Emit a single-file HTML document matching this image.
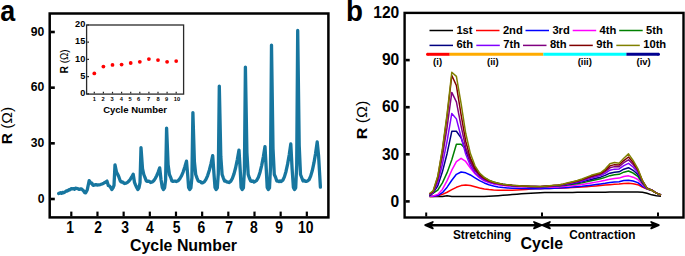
<!DOCTYPE html>
<html><head><meta charset="utf-8"><style>
html,body{margin:0;padding:0;background:#fff;width:685px;height:256px;overflow:hidden}
svg{display:block}
text{font-family:"Liberation Sans", sans-serif;fill:#000}
</style></head><body>
<svg width="685" height="256" viewBox="0 0 685 256">
<text transform="translate(0.20,21.00) scale(0.89,1)" font-size="30.2" text-anchor="start" font-weight="bold" >a</text>
<rect x="49.7" y="13.5" width="278.7" height="203.9" fill="none" stroke="#000" stroke-width="2.5"/>
<line x1="51.00" y1="199.00" x2="54.80" y2="199.00" stroke="#000" stroke-width="2.6" />
<text transform="translate(44.40,202.60) scale(0.975,1)" font-size="12.5" text-anchor="end" font-weight="bold" >0</text>
<line x1="51.00" y1="143.33" x2="54.80" y2="143.33" stroke="#000" stroke-width="2.6" />
<text transform="translate(44.40,146.93) scale(0.975,1)" font-size="12.5" text-anchor="end" font-weight="bold" >30</text>
<line x1="51.00" y1="87.66" x2="54.80" y2="87.66" stroke="#000" stroke-width="2.6" />
<text transform="translate(44.40,91.26) scale(0.975,1)" font-size="12.5" text-anchor="end" font-weight="bold" >60</text>
<line x1="51.00" y1="32.00" x2="54.80" y2="32.00" stroke="#000" stroke-width="2.6" />
<text transform="translate(44.40,35.60) scale(0.975,1)" font-size="12.5" text-anchor="end" font-weight="bold" >90</text>
<line x1="71.30" y1="216.30" x2="71.30" y2="211.60" stroke="#000" stroke-width="2.2" />
<text transform="translate(70.20,232.80) scale(0.86,1)" font-size="16.2" text-anchor="middle" font-weight="bold" >1</text>
<line x1="97.47" y1="216.30" x2="97.47" y2="211.60" stroke="#000" stroke-width="2.2" />
<text transform="translate(98.07,232.80) scale(0.86,1)" font-size="16.2" text-anchor="middle" font-weight="bold" >2</text>
<line x1="123.64" y1="216.30" x2="123.64" y2="211.60" stroke="#000" stroke-width="2.2" />
<text transform="translate(125.04,232.80) scale(0.86,1)" font-size="16.2" text-anchor="middle" font-weight="bold" >3</text>
<line x1="149.81" y1="216.30" x2="149.81" y2="211.60" stroke="#000" stroke-width="2.2" />
<text transform="translate(149.91,232.80) scale(0.86,1)" font-size="16.2" text-anchor="middle" font-weight="bold" >4</text>
<line x1="175.98" y1="216.30" x2="175.98" y2="211.60" stroke="#000" stroke-width="2.2" />
<text transform="translate(176.58,232.80) scale(0.86,1)" font-size="16.2" text-anchor="middle" font-weight="bold" >5</text>
<line x1="202.15" y1="216.30" x2="202.15" y2="211.60" stroke="#000" stroke-width="2.2" />
<text transform="translate(201.45,232.80) scale(0.86,1)" font-size="16.2" text-anchor="middle" font-weight="bold" >6</text>
<line x1="228.32" y1="216.30" x2="228.32" y2="211.60" stroke="#000" stroke-width="2.2" />
<text transform="translate(229.02,232.80) scale(0.86,1)" font-size="16.2" text-anchor="middle" font-weight="bold" >7</text>
<line x1="254.49" y1="216.30" x2="254.49" y2="211.60" stroke="#000" stroke-width="2.2" />
<text transform="translate(253.79,232.80) scale(0.86,1)" font-size="16.2" text-anchor="middle" font-weight="bold" >8</text>
<line x1="280.66" y1="216.30" x2="280.66" y2="211.60" stroke="#000" stroke-width="2.2" />
<text transform="translate(279.06,232.80) scale(0.86,1)" font-size="16.2" text-anchor="middle" font-weight="bold" >9</text>
<line x1="306.83" y1="216.30" x2="306.83" y2="211.60" stroke="#000" stroke-width="2.2" />
<text transform="translate(305.63,232.80) scale(0.86,1)" font-size="16.2" text-anchor="middle" font-weight="bold" >10</text>
<text transform="translate(183.50,251.20) scale(0.965,1)" font-size="16.5" text-anchor="middle" font-weight="bold" >Cycle Number</text>
<text transform="translate(11.6,125.6) rotate(-90) scale(1.05,1)" font-size="14.8" text-anchor="middle" font-weight="bold">R <tspan font-weight="normal">(Ω)</tspan></text>
<path d="M58.70,193.50 L59.64,193.11 L60.58,192.73 L61.52,193.29 L62.46,192.34 L63.40,192.80 L64.34,192.41 L65.28,191.73 L66.22,190.86 L67.16,191.05 L68.10,190.60 L69.03,189.59 L69.96,189.79 L70.89,188.92 L71.82,188.59 L72.75,188.80 L73.68,188.67 L74.61,189.22 L75.54,188.21 L76.47,188.33 L77.40,188.70 L78.38,188.93 L79.35,189.43 L80.33,188.96 L81.30,188.90 L82.50,189.81 L83.70,191.00 L84.70,192.57 L85.70,192.80 L87.20,190.00 L89.20,180.60 L90.80,183.00 L91.80,183.13 L92.80,185.04 L93.80,185.30 L94.87,184.91 L95.93,184.60 L97.00,185.00 L98.67,184.87 L100.33,184.52 L102.00,183.96 L103.67,183.19 L105.33,182.24 L107.00,181.10 L108.30,185.45 L109.50,185.94 L110.70,187.50 L111.80,189.60 L113.00,187.80 L114.00,185.38 L115.00,164.90 L116.50,172.18 L117.80,174.50 L119.05,177.48 L120.30,181.00 L121.40,182.07 L122.50,181.80 L123.60,182.99 L124.70,183.50 L126.12,183.19 L127.53,182.36 L128.95,181.03 L130.37,179.24 L131.78,176.99 L133.20,174.30 L134.50,182.38 L135.60,185.14 L136.70,187.50 L137.80,189.60 L139.00,187.80 L140.00,182.79 L141.00,147.60 L142.50,168.72 L143.80,174.50 L145.05,177.57 L146.30,181.00 L147.40,181.44 L148.50,181.14 L149.60,181.51 L150.70,182.50 L152.20,182.01 L153.70,180.69 L155.20,178.59 L156.70,175.74 L158.20,172.17 L159.70,167.90 L161.00,179.50 L162.30,187.50 L163.40,189.60 L164.60,187.80 L165.60,179.87 L166.60,128.10 L168.10,164.82 L169.40,174.50 L170.65,177.34 L171.90,181.00 L173.00,181.38 L174.10,181.15 L175.20,181.11 L176.30,181.50 L178.00,180.82 L179.70,178.97 L181.40,176.03 L183.10,172.06 L184.80,167.07 L186.50,161.10 L187.80,176.45 L188.60,187.50 L189.70,189.60 L190.90,187.80 L191.90,177.54 L192.90,112.60 L194.40,161.72 L195.70,174.50 L196.95,177.87 L198.20,181.00 L199.30,181.38 L200.40,181.62 L201.50,182.76 L202.60,182.80 L204.28,181.90 L205.97,179.44 L207.65,175.54 L209.33,170.26 L211.02,163.63 L212.70,155.70 L214.00,174.02 L215.00,187.50 L216.10,189.60 L217.30,187.80 L218.30,173.56 L219.30,86.10 L220.80,156.42 L222.10,174.50 L223.35,178.03 L224.60,181.00 L225.70,181.02 L226.80,181.85 L227.90,182.16 L229.00,182.50 L230.67,181.42 L232.33,178.48 L234.00,173.82 L235.67,167.50 L237.33,159.59 L239.00,150.10 L240.30,171.50 L241.10,187.50 L242.20,189.60 L243.40,187.80 L244.40,170.72 L245.40,67.10 L246.90,152.62 L248.20,174.50 L249.45,178.28 L250.70,181.00 L251.80,181.45 L252.90,180.95 L254.00,182.05 L255.10,181.50 L256.75,180.34 L258.40,177.17 L260.05,172.15 L261.70,165.35 L263.35,156.82 L265.00,146.60 L266.30,169.92 L267.20,187.50 L268.30,189.60 L269.50,187.80 L270.50,167.41 L271.50,45.10 L273.00,148.22 L274.30,174.50 L275.55,177.22 L276.80,181.00 L277.90,181.01 L279.00,181.61 L280.10,180.89 L281.20,181.50 L282.80,180.25 L284.40,176.85 L286.00,171.45 L287.60,164.14 L289.20,154.98 L290.80,144.00 L292.10,168.75 L293.40,187.50 L294.50,189.60 L295.70,187.80 L296.70,165.21 L297.70,30.40 L299.20,145.28 L300.50,174.50 L301.75,177.73 L303.00,181.00 L304.10,180.35 L305.20,181.24 L306.30,181.37 L307.40,181.00 L309.03,179.70 L310.67,176.16 L312.30,170.55 L313.93,162.95 L315.57,153.42 L317.20,142.00 L318.60,156.00 L320.40,187.20" fill="none" stroke="#17769f" stroke-width="3.3" stroke-linejoin="round" stroke-linecap="round"/>
<rect x="86.6" y="25" width="97.0" height="69.1" fill="#fff" stroke="#2a2a2a" stroke-width="1.3"/>
<line x1="87.20" y1="93.80" x2="89.00" y2="93.80" stroke="#222" stroke-width="1.2" />
<text transform="translate(85.30,96.00) scale(0.97,1)" font-size="9.5" text-anchor="end" font-weight="bold" >0</text>
<line x1="87.20" y1="76.60" x2="89.00" y2="76.60" stroke="#222" stroke-width="1.2" />
<text transform="translate(85.30,78.80) scale(0.97,1)" font-size="9.5" text-anchor="end" font-weight="bold" >5</text>
<line x1="87.20" y1="59.40" x2="89.00" y2="59.40" stroke="#222" stroke-width="1.2" />
<text transform="translate(85.30,61.60) scale(0.97,1)" font-size="9.5" text-anchor="end" font-weight="bold" >10</text>
<line x1="87.20" y1="42.20" x2="89.00" y2="42.20" stroke="#222" stroke-width="1.2" />
<text transform="translate(85.30,44.40) scale(0.97,1)" font-size="9.5" text-anchor="end" font-weight="bold" >15</text>
<line x1="87.20" y1="25.00" x2="89.00" y2="25.00" stroke="#222" stroke-width="1.2" />
<text transform="translate(85.30,27.20) scale(0.97,1)" font-size="9.5" text-anchor="end" font-weight="bold" >20</text>
<line x1="94.30" y1="93.50" x2="94.30" y2="91.80" stroke="#222" stroke-width="1.2" />
<text x="94.40" y="101.20" font-size="5.7" text-anchor="middle" font-weight="bold" >1</text>
<line x1="103.40" y1="93.50" x2="103.40" y2="91.80" stroke="#222" stroke-width="1.2" />
<text x="103.20" y="101.20" font-size="5.7" text-anchor="middle" font-weight="bold" >2</text>
<line x1="112.50" y1="93.50" x2="112.50" y2="91.80" stroke="#222" stroke-width="1.2" />
<text x="112.10" y="101.20" font-size="5.7" text-anchor="middle" font-weight="bold" >3</text>
<line x1="121.60" y1="93.50" x2="121.60" y2="91.80" stroke="#222" stroke-width="1.2" />
<text x="121.30" y="101.20" font-size="5.7" text-anchor="middle" font-weight="bold" >4</text>
<line x1="130.70" y1="93.50" x2="130.70" y2="91.80" stroke="#222" stroke-width="1.2" />
<text x="130.00" y="101.20" font-size="5.7" text-anchor="middle" font-weight="bold" >5</text>
<line x1="139.80" y1="93.50" x2="139.80" y2="91.80" stroke="#222" stroke-width="1.2" />
<text x="138.70" y="101.20" font-size="5.7" text-anchor="middle" font-weight="bold" >6</text>
<line x1="148.90" y1="93.50" x2="148.90" y2="91.80" stroke="#222" stroke-width="1.2" />
<text x="148.60" y="101.20" font-size="5.7" text-anchor="middle" font-weight="bold" >7</text>
<line x1="158.00" y1="93.50" x2="158.00" y2="91.80" stroke="#222" stroke-width="1.2" />
<text x="158.00" y="101.20" font-size="5.7" text-anchor="middle" font-weight="bold" >8</text>
<line x1="167.10" y1="93.50" x2="167.10" y2="91.80" stroke="#222" stroke-width="1.2" />
<text x="166.60" y="101.20" font-size="5.7" text-anchor="middle" font-weight="bold" >9</text>
<line x1="176.20" y1="93.50" x2="176.20" y2="91.80" stroke="#222" stroke-width="1.2" />
<text x="176.90" y="101.20" font-size="5.7" text-anchor="middle" font-weight="bold" >10</text>
<text x="135.10" y="112.60" font-size="9.5" text-anchor="middle" font-weight="bold" >Cycle Number</text>
<text transform="translate(67.7,61.5) rotate(-90) scale(0.98,1)" font-size="10.5" text-anchor="middle" font-weight="bold">R <tspan font-weight="normal" font-size="10.0">(Ω)</tspan></text>
<circle cx="94.30" cy="73.40" r="1.9" fill="#ff0000"/>
<circle cx="103.40" cy="66.62" r="1.9" fill="#ff0000"/>
<circle cx="112.50" cy="64.90" r="1.9" fill="#ff0000"/>
<circle cx="121.60" cy="64.56" r="1.9" fill="#ff0000"/>
<circle cx="130.70" cy="63.01" r="1.9" fill="#ff0000"/>
<circle cx="139.80" cy="61.81" r="1.9" fill="#ff0000"/>
<circle cx="148.90" cy="59.06" r="1.9" fill="#ff0000"/>
<circle cx="158.00" cy="60.09" r="1.9" fill="#ff0000"/>
<circle cx="167.10" cy="61.81" r="1.9" fill="#ff0000"/>
<circle cx="176.20" cy="61.12" r="1.9" fill="#ff0000"/>
<text transform="translate(345.90,20.70) scale(0.92,1)" font-size="30.2" text-anchor="start" font-weight="bold" >b</text>
<rect x="404.6" y="12.9" width="278.9" height="204.6" fill="none" stroke="#000" stroke-width="2.4"/>
<line x1="405.60" y1="201.40" x2="409.70" y2="201.40" stroke="#000" stroke-width="2.6" />
<text transform="translate(399.30,206.60) scale(0.92,1)" font-size="17" text-anchor="end" font-weight="bold" >0</text>
<line x1="405.60" y1="154.30" x2="409.70" y2="154.30" stroke="#000" stroke-width="2.6" />
<text transform="translate(399.30,159.50) scale(0.92,1)" font-size="17" text-anchor="end" font-weight="bold" >30</text>
<line x1="405.60" y1="107.20" x2="409.70" y2="107.20" stroke="#000" stroke-width="2.6" />
<text transform="translate(399.30,112.40) scale(0.92,1)" font-size="17" text-anchor="end" font-weight="bold" >60</text>
<line x1="405.60" y1="60.10" x2="409.70" y2="60.10" stroke="#000" stroke-width="2.6" />
<text transform="translate(399.30,65.30) scale(0.92,1)" font-size="17" text-anchor="end" font-weight="bold" >90</text>
<text transform="translate(399.30,18.20) scale(0.92,1)" font-size="17" text-anchor="end" font-weight="bold" >120</text>
<line x1="426.20" y1="216.50" x2="426.20" y2="212.50" stroke="#000" stroke-width="2" />
<line x1="542.00" y1="216.50" x2="542.00" y2="212.50" stroke="#000" stroke-width="2" />
<line x1="658.00" y1="216.50" x2="658.00" y2="212.50" stroke="#000" stroke-width="2" />
<text transform="translate(366.9,120.0) rotate(-90) scale(1.08,1)" font-size="14.8" text-anchor="middle" font-weight="bold">R <tspan font-weight="normal">(Ω)</tspan></text>
<line x1="427.00" y1="225.20" x2="539.00" y2="225.20" stroke="#000" stroke-width="2.4" />
<polygon points="432.80,222.00 425.20,225.20 432.80,228.40 430.20,225.20" fill="#000" stroke="#000" stroke-width="1.8" stroke-linejoin="round"/>
<polygon points="534.00,222.00 541.60,225.20 534.00,228.40 536.60,225.20" fill="#000" stroke="#000" stroke-width="1.8" stroke-linejoin="round"/>
<line x1="545.00" y1="225.20" x2="657.00" y2="225.20" stroke="#000" stroke-width="2.4" />
<polygon points="549.90,222.00 542.30,225.20 549.90,228.40 547.30,225.20" fill="#000" stroke="#000" stroke-width="1.8" stroke-linejoin="round"/>
<polygon points="651.20,222.00 658.80,225.20 651.20,228.40 653.80,225.20" fill="#000" stroke="#000" stroke-width="1.8" stroke-linejoin="round"/>
<text transform="translate(482.10,238.60) scale(0.96,1)" font-size="12.3" text-anchor="middle" font-weight="bold" >Stretching</text>
<text transform="translate(602.40,238.90) scale(0.96,1)" font-size="12.3" text-anchor="middle" font-weight="bold" >Contraction</text>
<text transform="translate(541.80,249.40) scale(0.96,1)" font-size="16.6" text-anchor="middle" font-weight="bold" >Cycle</text>
<line x1="429.50" y1="30.50" x2="453.00" y2="30.50" stroke="#000000" stroke-width="1.5" />
<text x="456.40" y="34.10" font-size="11.2" text-anchor="start" font-weight="bold" >1st</text>
<line x1="476.00" y1="30.50" x2="499.50" y2="30.50" stroke="#ff0000" stroke-width="1.5" />
<text x="502.90" y="34.10" font-size="11.2" text-anchor="start" font-weight="bold" >2nd</text>
<line x1="525.50" y1="30.50" x2="549.00" y2="30.50" stroke="#0000ff" stroke-width="1.5" />
<text x="552.40" y="34.10" font-size="11.2" text-anchor="start" font-weight="bold" >3rd</text>
<line x1="572.70" y1="30.50" x2="596.20" y2="30.50" stroke="#ff00ff" stroke-width="1.5" />
<text x="599.60" y="34.10" font-size="11.2" text-anchor="start" font-weight="bold" >4th</text>
<line x1="619.20" y1="30.50" x2="642.70" y2="30.50" stroke="#008000" stroke-width="1.5" />
<text x="646.10" y="34.10" font-size="11.2" text-anchor="start" font-weight="bold" >5th</text>
<line x1="429.50" y1="45.40" x2="453.00" y2="45.40" stroke="#000080" stroke-width="1.5" />
<text x="456.40" y="48.30" font-size="11.2" text-anchor="start" font-weight="bold" >6th</text>
<line x1="476.30" y1="45.40" x2="499.80" y2="45.40" stroke="#8000ff" stroke-width="1.5" />
<text x="503.20" y="48.30" font-size="11.2" text-anchor="start" font-weight="bold" >7th</text>
<line x1="523.00" y1="45.40" x2="546.50" y2="45.40" stroke="#800080" stroke-width="1.5" />
<text x="549.90" y="48.30" font-size="11.2" text-anchor="start" font-weight="bold" >8th</text>
<line x1="569.30" y1="45.40" x2="592.80" y2="45.40" stroke="#800000" stroke-width="1.5" />
<text x="596.20" y="48.30" font-size="11.2" text-anchor="start" font-weight="bold" >9th</text>
<line x1="616.30" y1="45.40" x2="639.80" y2="45.40" stroke="#808000" stroke-width="1.5" />
<text x="643.20" y="48.30" font-size="11.2" text-anchor="start" font-weight="bold" >10th</text>
<line x1="427.50" y1="54.30" x2="449.70" y2="54.30" stroke="#ff0000" stroke-width="3" />
<line x1="449.70" y1="54.30" x2="543.40" y2="54.30" stroke="#ffab00" stroke-width="3" />
<line x1="543.40" y1="54.30" x2="626.40" y2="54.30" stroke="#00ffff" stroke-width="3" />
<line x1="626.40" y1="54.30" x2="658.50" y2="54.30" stroke="#000090" stroke-width="3" />
<circle cx="427.5" cy="54.3" r="1.5" fill="#ff0000"/>
<circle cx="658.5" cy="54.3" r="1.5" fill="#000090"/>
<text transform="translate(437.60,64.70) scale(0.98,1)" font-size="9.7" text-anchor="middle" font-weight="bold" >(i)</text>
<text transform="translate(492.80,64.70) scale(0.98,1)" font-size="9.7" text-anchor="middle" font-weight="bold" >(ii)</text>
<text transform="translate(584.80,64.70) scale(0.98,1)" font-size="9.7" text-anchor="middle" font-weight="bold" >(iii)</text>
<text transform="translate(643.60,64.70) scale(0.98,1)" font-size="9.7" text-anchor="middle" font-weight="bold" >(iv)</text>
<path d="M429.5,196.60 L433.1,196.60 L437.8,196.60 L442.4,196.45 L447.1,195.80 L451.8,196.47 L456.4,196.60 L461.1,196.60 L465.7,196.60 L470.4,196.60 L475.0,196.60 L479.6,196.55 L484.3,196.43 L488.9,196.23 L493.6,195.97 L498.2,195.66 L502.9,195.32 L507.6,194.95 L512.2,194.57 L516.9,194.19 L521.5,193.83 L526.1,193.48 L530.8,193.17 L535.5,192.90 L540.1,192.70 L544.8,192.55 L549.4,192.48 L554.0,192.47 L558.7,192.46 L563.4,192.43 L568.0,192.41 L572.6,192.39 L577.3,192.36 L582.0,192.33 L586.6,192.30 L591.2,192.26 L595.9,192.22 L600.5,192.18 L605.2,192.14 L609.9,192.09 L614.5,192.06 L619.1,192.03 L623.8,191.96 L628.5,191.94 L633.1,191.99 L637.8,192.08 L642.4,192.29 L647.0,193.33 L651.7,194.84 L656.4,195.65 L661.0,196.19" fill="none" stroke="#000000" stroke-width="1.5" stroke-linejoin="round"/>
<path d="M429.5,196.50 L433.1,196.43 L437.8,195.82 L442.4,194.39 L447.1,192.23 L451.8,189.69 L456.4,187.31 L461.1,185.61 L465.7,185.00 L470.4,185.50 L475.0,186.70 L479.6,187.98 L484.3,188.97 L488.9,189.60 L493.6,189.97 L498.2,190.17 L502.9,190.27 L507.6,190.31 L512.2,190.21 L516.9,190.00 L521.5,189.72 L526.1,189.41 L530.8,189.11 L535.5,188.86 L540.1,188.67 L544.8,188.49 L549.4,188.38 L554.0,188.28 L558.7,188.17 L563.4,187.97 L568.0,187.75 L572.6,187.52 L577.3,187.29 L582.0,187.01 L586.6,186.65 L591.2,186.29 L595.9,185.93 L600.5,185.53 L605.2,185.11 L609.9,184.64 L614.5,184.35 L619.1,184.10 L623.8,183.42 L628.5,183.16 L633.1,183.66 L637.8,184.68 L642.4,187.10 L647.0,189.07 L651.7,190.22 L656.4,193.14 L661.0,194.96" fill="none" stroke="#ff0000" stroke-width="1.5" stroke-linejoin="round"/>
<path d="M429.5,196.30 L433.1,196.27 L437.8,195.52 L442.4,192.69 L447.1,187.20 L451.8,180.24 L456.4,174.32 L461.1,172.00 L465.7,172.82 L470.4,174.98 L475.0,177.79 L479.6,180.58 L484.3,182.93 L488.9,184.72 L493.6,186.01 L498.2,186.90 L502.9,187.50 L507.6,187.91 L512.2,188.18 L516.9,188.37 L521.5,188.49 L526.1,188.58 L530.8,188.64 L535.5,188.68 L540.1,188.71 L544.8,188.56 L549.4,188.41 L554.0,188.25 L558.7,188.10 L563.4,187.79 L568.0,187.44 L572.6,187.08 L577.3,186.73 L582.0,186.28 L586.6,185.72 L591.2,185.15 L595.9,184.59 L600.5,183.97 L605.2,183.30 L609.9,182.52 L614.5,182.07 L619.1,181.69 L623.8,180.60 L628.5,180.16 L633.1,181.00 L637.8,182.61 L642.4,186.18 L647.0,188.91 L651.7,190.22 L656.4,193.14 L661.0,194.96" fill="none" stroke="#0000ff" stroke-width="1.5" stroke-linejoin="round"/>
<path d="M429.5,196.00 L433.1,195.91 L437.8,194.39 L442.4,189.43 L447.1,180.68 L451.8,170.21 L456.4,161.62 L461.1,158.30 L465.7,161.48 L470.4,167.96 L475.0,173.79 L479.6,177.95 L484.3,180.74 L488.9,182.61 L493.6,183.90 L498.2,184.81 L502.9,185.47 L507.6,185.97 L512.2,186.35 L516.9,186.64 L521.5,186.87 L526.1,187.06 L530.8,187.22 L535.5,187.34 L540.1,187.44 L544.8,187.30 L549.4,187.15 L554.0,186.98 L558.7,186.81 L563.4,186.42 L568.0,185.96 L572.6,185.49 L577.3,185.02 L582.0,184.42 L586.6,183.66 L591.2,182.89 L595.9,182.13 L600.5,181.31 L605.2,180.35 L609.9,179.18 L614.5,178.58 L619.1,178.12 L623.8,176.56 L628.5,175.86 L633.1,177.17 L637.8,179.52 L642.4,184.62 L647.0,188.53 L651.7,190.21 L656.4,193.14 L661.0,194.96" fill="none" stroke="#ff00ff" stroke-width="1.5" stroke-linejoin="round"/>
<path d="M429.5,195.80 L433.1,193.20 L437.8,190.02 L442.4,182.88 L447.1,172.64 L451.8,159.67 L456.4,144.20 L461.1,144.20 L465.7,149.00 L470.4,158.72 L475.0,167.41 L479.6,173.52 L484.3,177.57 L488.9,180.26 L493.6,182.08 L498.2,183.36 L502.9,184.28 L507.6,184.96 L512.2,185.48 L516.9,185.87 L521.5,186.19 L526.1,186.44 L530.8,186.64 L535.5,186.81 L540.1,186.94 L544.8,186.75 L549.4,186.55 L554.0,186.33 L558.7,186.09 L563.4,185.57 L568.0,184.95 L572.6,184.33 L577.3,183.69 L582.0,182.88 L586.6,181.86 L591.2,180.83 L595.9,179.84 L600.5,178.80 L605.2,177.40 L609.9,175.65 L614.5,174.84 L619.1,174.37 L623.8,172.17 L628.5,171.04 L633.1,173.05 L637.8,176.39 L642.4,183.17 L647.0,188.26 L651.7,190.21 L656.4,193.14 L661.0,194.96" fill="none" stroke="#008000" stroke-width="1.5" stroke-linejoin="round"/>
<path d="M429.5,195.50 L433.1,192.90 L437.8,185.72 L442.4,171.86 L447.1,153.46 L451.8,131.30 L456.4,131.30 L461.1,137.83 L465.7,150.91 L470.4,162.40 L475.0,170.31 L479.6,175.43 L484.3,178.76 L488.9,180.98 L493.6,182.50 L498.2,183.58 L502.9,184.36 L507.6,184.95 L512.2,185.40 L516.9,185.74 L521.5,186.02 L526.1,186.24 L530.8,186.42 L535.5,186.56 L540.1,186.68 L544.8,186.43 L549.4,186.18 L554.0,185.90 L558.7,185.62 L563.4,185.00 L568.0,184.27 L572.6,183.53 L577.3,182.78 L582.0,181.82 L586.6,180.62 L591.2,179.43 L595.9,178.31 L600.5,177.15 L605.2,175.42 L609.9,173.19 L614.5,172.26 L619.1,171.85 L623.8,169.19 L628.5,167.68 L633.1,170.28 L637.8,174.34 L642.4,182.23 L647.0,188.10 L651.7,190.21 L656.4,193.14 L661.0,194.96" fill="none" stroke="#000080" stroke-width="1.5" stroke-linejoin="round"/>
<path d="M429.5,195.00 L433.1,192.40 L437.8,182.52 L442.4,164.47 L447.1,141.09 L451.8,113.40 L456.4,118.89 L461.1,136.87 L465.7,154.01 L470.4,165.67 L475.0,172.92 L479.6,177.41 L484.3,180.28 L488.9,182.16 L493.6,183.45 L498.2,184.36 L502.9,185.01 L507.6,185.50 L512.2,185.87 L516.9,186.16 L521.5,186.38 L526.1,186.56 L530.8,186.70 L535.5,186.82 L540.1,186.91 L544.8,186.59 L549.4,186.27 L554.0,185.93 L558.7,185.58 L563.4,184.81 L568.0,183.92 L572.6,183.03 L577.3,182.13 L582.0,180.95 L586.6,179.52 L591.2,178.10 L595.9,176.83 L600.5,175.56 L605.2,173.28 L609.9,170.22 L614.5,169.13 L619.1,168.94 L623.8,165.56 L628.5,163.32 L633.1,166.97 L637.8,172.20 L642.4,181.47 L647.0,188.13 L651.7,190.22 L656.4,193.14 L661.0,194.96" fill="none" stroke="#8000ff" stroke-width="1.5" stroke-linejoin="round"/>
<path d="M429.5,194.50 L433.1,191.90 L437.8,179.46 L442.4,156.72 L447.1,127.27 L451.8,92.40 L456.4,101.80 L461.1,126.12 L465.7,147.69 L470.4,161.88 L475.0,170.52 L479.6,175.81 L484.3,179.14 L488.9,181.32 L493.6,182.80 L498.2,183.83 L502.9,184.57 L507.6,185.12 L512.2,185.53 L516.9,185.85 L521.5,186.10 L526.1,186.30 L530.8,186.45 L535.5,186.58 L540.1,186.68 L544.8,186.34 L549.4,185.99 L554.0,185.62 L558.7,185.25 L563.4,184.39 L568.0,183.41 L572.6,182.42 L577.3,181.42 L582.0,180.10 L586.6,178.52 L591.2,176.95 L595.9,175.61 L600.5,174.33 L605.2,171.59 L609.9,167.80 L614.5,166.61 L619.1,166.70 L623.8,162.73 L628.5,159.83 L633.1,164.43 L637.8,170.64 L642.4,180.93 L647.0,188.17 L651.7,190.23 L656.4,193.14 L661.0,194.96" fill="none" stroke="#800080" stroke-width="1.5" stroke-linejoin="round"/>
<path d="M429.5,194.00 L433.1,191.40 L437.8,176.91 L442.4,150.42 L447.1,116.12 L451.8,75.50 L456.4,85.54 L461.1,114.86 L465.7,141.18 L470.4,158.27 L475.0,168.49 L479.6,174.62 L484.3,178.41 L488.9,180.85 L493.6,182.48 L498.2,183.61 L502.9,184.41 L507.6,184.99 L512.2,185.42 L516.9,185.76 L521.5,186.01 L526.1,186.21 L530.8,186.38 L535.5,186.51 L540.1,186.60 L544.8,186.25 L549.4,185.88 L554.0,185.50 L558.7,185.11 L563.4,184.17 L568.0,183.11 L572.6,182.05 L577.3,180.98 L582.0,179.54 L586.6,177.85 L591.2,176.16 L595.9,174.79 L600.5,173.55 L605.2,170.38 L609.9,165.90 L614.5,164.64 L619.1,165.04 L623.8,160.55 L628.5,157.02 L633.1,162.52 L637.8,169.61 L642.4,180.67 L647.0,188.29 L651.7,190.24 L656.4,193.14 L661.0,194.96" fill="none" stroke="#800000" stroke-width="1.5" stroke-linejoin="round"/>
<path d="M429.5,193.50 L433.1,190.90 L437.8,176.07 L442.4,148.97 L447.1,113.87 L451.8,72.30 L456.4,76.41 L461.1,103.60 L465.7,133.25 L470.4,153.58 L475.0,165.79 L479.6,173.03 L484.3,177.43 L488.9,180.22 L493.6,182.05 L498.2,183.30 L502.9,184.17 L507.6,184.80 L512.2,185.27 L516.9,185.62 L521.5,185.89 L526.1,186.10 L530.8,186.27 L535.5,186.41 L540.1,186.51 L544.8,186.14 L549.4,185.75 L554.0,185.36 L558.7,184.95 L563.4,183.94 L568.0,182.81 L572.6,181.66 L577.3,180.51 L582.0,178.95 L586.6,177.14 L591.2,175.33 L595.9,173.95 L600.5,172.77 L605.2,169.10 L609.9,163.80 L614.5,162.46 L619.1,163.27 L623.8,158.18 L628.5,153.86 L633.1,160.46 L637.8,168.57 L642.4,180.46 L647.0,188.47 L651.7,190.26 L656.4,193.14 L661.0,194.96" fill="none" stroke="#808000" stroke-width="1.5" stroke-linejoin="round"/>
</svg>
</body></html>
